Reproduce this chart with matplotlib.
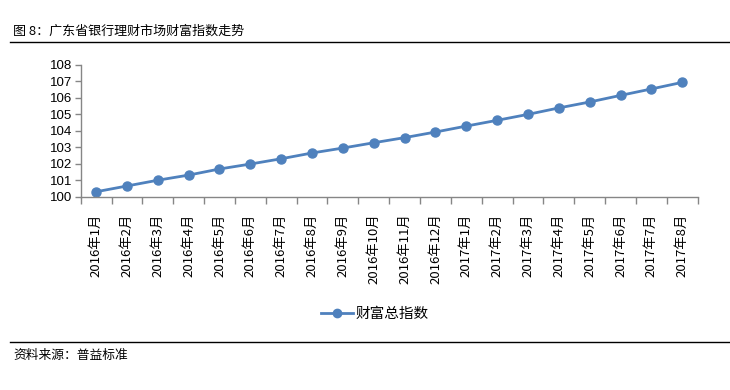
import matplotlib
matplotlib.use('Agg')
import matplotlib.pyplot as plt
from matplotlib.lines import Line2D

plt.rcParams['font.family'] = ['Noto Sans CJK SC', 'DejaVu Sans']

months = ['2016年1月', '2016年2月', '2016年3月', '2016年4月', '2016年5月', '2016年6月',
          '2016年7月', '2016年8月', '2016年9月', '2016年10月', '2016年11月', '2016年12月',
          '2017年1月', '2017年2月', '2017年3月', '2017年4月', '2017年5月', '2017年6月',
          '2017年7月', '2017年8月']
wealth_index = [100.30, 100.65, 101.00, 101.31, 101.68, 101.98, 102.30, 102.65, 102.95, 103.27,
                103.58, 103.92, 104.28, 104.63, 104.99, 105.38, 105.74, 106.14, 106.53, 106.93]
y_ticks = [100, 101, 102, 103, 104, 105, 106, 107, 108]

blue = '#4F81BD'
grey = '#868686'

figure = plt.figure(figsize=(7.3, 3.9), dpi=100)
axis = figure.add_axes([0.1105, 0.4956, 0.8452, 0.3385])

xs = [i + 0.5 for i in range(len(months))]
axis.plot(xs, wealth_index, color=blue, linewidth=2, marker='o', markersize=6.5,
          label='财富总指数')

axis.set_xlim(0, len(months))
axis.set_ylim(100, 108)
axis.set_yticks(y_ticks)
axis.set_yticklabels([str(v) for v in y_ticks], fontsize=9.5, family=['Liberation Sans'])

axis.set_xticks(xs)
axis.set_xticklabels(months, rotation=90, fontsize=9.5)
axis.set_xticks(range(len(months) + 1), minor=True)
axis.tick_params(axis='x', which='major', length=0, pad=12)
axis.tick_params(axis='x', which='minor', length=5, color=grey, width=1)
axis.tick_params(axis='y', length=4, color=grey, width=1, pad=2)

for side in ['top', 'right']:
    axis.spines[side].set_visible(False)
for side in ['left', 'bottom']:
    axis.spines[side].set_color(grey)
    axis.spines[side].set_linewidth(1)

figure.legend(handles=[Line2D([], [], color=blue, linewidth=2, marker='o', markersize=6,
                              label='财富总指数')],
              loc='center', bbox_to_anchor=(375 / 730, 1 - 314 / 390), frameon=False,
              fontsize=10.5, handlelength=2.2, handletextpad=0.2)

figure.text(13 / 730, 1 - 31 / 390, '图 8：广东省银行理财市场财富指数走势', fontsize=9.4,
            va='center', ha='left')
figure.add_artist(Line2D([10 / 730, 1], [1 - 42 / 390, 1 - 42 / 390], color='black', linewidth=1))
figure.add_artist(Line2D([10 / 730, 1], [1 - 342 / 390, 1 - 342 / 390], color='black', linewidth=1))
figure.text(13 / 730, 1 - 355 / 390, '资料来源：普益标准', fontsize=9.2, va='center', ha='left')

figure.savefig('out.png', dpi=100, facecolor='white')
